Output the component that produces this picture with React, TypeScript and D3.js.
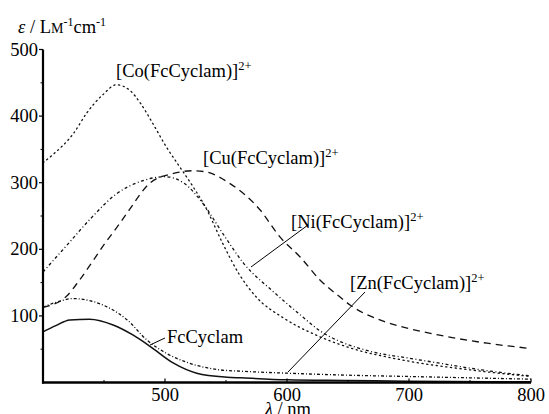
import React from "react";
import * as d3 from "d3";

const W = 549;
const H = 414;

const xTicks = [500, 600, 700, 800];
const xMinorTicks = [450, 550, 650, 750];
const yTicks = [100, 200, 300, 400, 500];
const yMinorTicks = [50, 150, 250, 350, 450];

const coWl = [400, 408, 425, 436, 449, 460, 471, 480, 490, 501, 512, 523, 533, 547, 561, 575, 597, 624, 650, 700, 750, 800];
const coEps = [330, 342, 374, 405, 432, 447, 439, 419, 389, 354, 324, 294, 264, 210, 162, 128, 97, 71, 53, 32, 19, 9];

const niWl = [400, 420, 440, 460, 480, 500, 515, 531, 548, 564, 589, 608, 630, 643, 670, 702, 725, 752, 780, 800];
const niEps = [166, 207, 248, 283, 302, 309, 300, 269, 222, 180, 136, 106, 74, 62, 46, 36, 29, 21, 14, 10];

const cuWl = [400, 419, 430, 440, 450, 463, 471, 488, 507, 523, 534, 553, 578, 594, 611, 627, 643, 652, 679, 700, 725, 764, 800];
const cuEps = [113, 129, 154, 180, 207, 239, 260, 300, 314, 318, 316, 299, 259, 219, 188, 154, 129, 116, 92, 81, 71, 59, 51];

const znWl = [400, 410, 425, 440, 452, 469, 485, 501, 520, 545, 562, 600, 650, 700, 750, 800];
const znEps = [113, 120, 126, 122, 114, 94, 64, 44, 29, 19, 17, 14, 11, 9, 7, 5];

const fcWl = [400, 410, 422, 438, 458, 474, 488, 507, 526, 551, 562, 600, 650, 700, 800];
const fcEps = [76, 85, 94, 95, 86, 71, 54, 29, 14, 8, 7, 4, 3, 2, 1];

const series = [
  { name: "Co", wl: coWl, eps: coEps, dash: "1.2 3.6" },
  { name: "Ni", wl: niWl, eps: niEps, dash: "3 2.5 1 2.5" },
  { name: "Cu", wl: cuWl, eps: cuEps, dash: "7 5" },
  { name: "Zn", wl: znWl, eps: znEps, dash: "3 2 1 2" },
  { name: "Fc", wl: fcWl, eps: fcEps, dash: "" },
];

const complexLabels = [
  { metal: "Co", x: 116, y: 77 },
  { metal: "Cu", x: 203, y: 164 },
  { metal: "Ni", x: 291, y: 228 },
  { metal: "Zn", x: 350, y: 289 },
];

const FONT = "'Liberation Serif', 'Times New Roman', 'DejaVu Serif', serif";

export default function App() {
  const x = d3.scaleLinear().domain([400, 800]).range([43, 531]);
  const y = d3.scaleLinear().domain([0, 500]).range([382.5, 49.5]);

  const line = (wl: number[], eps: number[]) =>
    d3
      .line<number>()
      .x((_, i) => x(wl[i]))
      .y((_, i) => y(eps[i]))
      .curve(d3.curveMonotoneX)(eps) || "";

  const ts = { fontFamily: FONT };

  return (
    <svg
      width={W}
      height={H}
      style={{ position: "fixed", left: 0, top: 0, background: "#fff", fontFamily: FONT }}
    >
      <rect x={0} y={0} width={W} height={H} fill="#fff" />
      {series.map((s) => (
        <path
          key={s.name}
          d={line(s.wl, s.eps)}
          fill="none"
          stroke="#111"
          strokeWidth={s.name === "Fc" ? 1.5 : 1.3}
          strokeDasharray={s.dash || undefined}
          strokeLinecap={s.name === "Co" ? "round" : "butt"}
        />
      ))}

      {/* y axis */}
      <line x1={x(400)} x2={x(400)} y1={y(500)} y2={y(0) + 1} stroke="#000" strokeWidth={2.2} />
      {yTicks.map((t) => (
        <g key={t}>
          <line x1={x(400) - 4} x2={x(400)} y1={y(t)} y2={y(t)} stroke="#000" strokeWidth={1.2} />
          <text x={38} y={y(t) + 6} fontSize={18.5} textAnchor="end" fill="#000" style={ts}>
            {t}
          </text>
        </g>
      ))}
      {yMinorTicks.map((t) => (
        <line key={t} x1={x(400) - 2.5} x2={x(400)} y1={y(t)} y2={y(t)} stroke="#000" strokeWidth={1} />
      ))}

      {/* x axis */}
      <line x1={x(400) - 1} x2={x(800)} y1={y(0)} y2={y(0)} stroke="#000" strokeWidth={2.6} />
      {xTicks.map((t) => (
        <g key={t}>
          <line x1={x(t)} x2={x(t)} y1={y(0)} y2={y(0) - 4} stroke="#000" strokeWidth={1.2} />
          <text x={x(t)} y={401} fontSize={18.5} textAnchor="middle" fill="#000" style={ts}>
            {t}
          </text>
        </g>
      ))}
      {xMinorTicks.map((t) => (
        <line key={t} x1={x(t)} x2={x(t)} y1={y(0)} y2={y(0) - 2.5} stroke="#000" strokeWidth={1} />
      ))}

      {/* axis titles */}
      <text x={18} y={33} fontSize={18.5} fill="#000" style={ts}>
        <tspan fontStyle="italic">ε</tspan>
        <tspan> / L</tspan>
        <tspan fontSize={14}>M</tspan>
        <tspan fontSize={12} dy={-7}>-1</tspan>
        <tspan dy={7}>cm</tspan>
        <tspan fontSize={12} dy={-7}>-1</tspan>
      </text>
      <text x={288} y={415} fontSize={18.5} textAnchor="middle" fill="#000" style={ts}>
        <tspan fontStyle="italic">λ</tspan>
        <tspan> / nm</tspan>
      </text>

      {/* curve labels */}
      {complexLabels.map((l) => (
        <text key={l.metal} x={l.x} y={l.y} fontSize={18.5} fill="#000" style={ts}>
          <tspan>{`[${l.metal}(FcCyclam)]`}</tspan>
          <tspan fontSize={12.5} dy={-7}>2+</tspan>
        </text>
      ))}
      <text x={167} y={343} fontSize={18.5} fill="#000" style={ts}>
        FcCyclam
      </text>

      {/* pointer lines */}
      <line x1={251} y1={267} x2={308} y2={225} stroke="#000" strokeWidth={1} />
      <line x1={288} y1={372} x2={365} y2={292} stroke="#000" strokeWidth={1} />
      <line x1={150} y1={345} x2={165} y2={338} stroke="#000" strokeWidth={1} />
    </svg>
  );
}
